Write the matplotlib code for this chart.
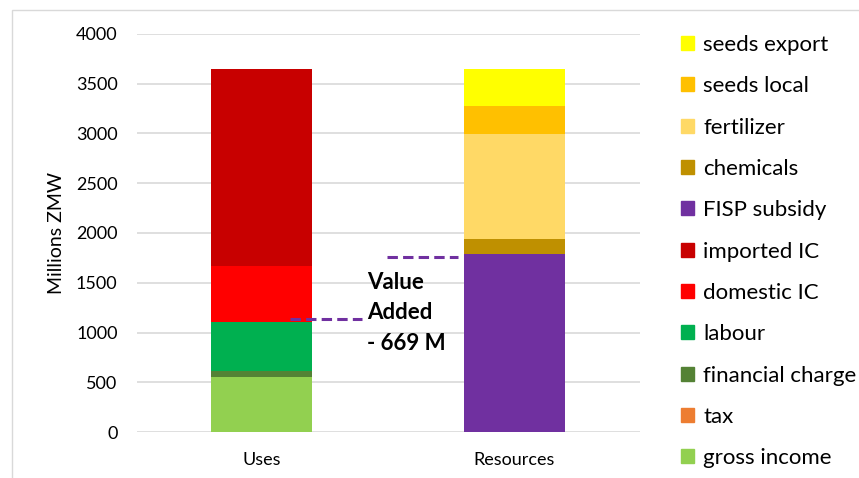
import matplotlib.pyplot as plt
from matplotlib.patches import Rectangle, Patch

plt.rcParams['font.family'] = ['Lato', 'DejaVu Sans']

categories = ['Uses', 'Resources']

series_names = ['gross income', 'tax', 'financial charge', 'labour', 'domestic IC',
                'imported IC', 'FISP subsidy', 'chemicals', 'fertilizer',
                'seeds local', 'seeds export']
uses_vals = [558, 0, 57, 495, 560, 1978, 0, 0, 0, 0, 0]
resources_vals = [0, 0, 0, 0, 0, 0, 1790, 150, 1055, 281, 372]
colors = ['#92D050', '#ED7D31', '#548235', '#00B050', '#FF0000',
          '#C80000', '#7030A0', '#BF9000', '#FFD966', '#FFC000', '#FFFF00']

va_label = 'Value\nAdded\n- 669 M'
va_uses_level = 1135
va_res_level = 1760

fig = plt.figure(figsize=(8.59, 4.78), dpi=100)
ax = fig.add_axes([137 / 859, 45.7 / 478, 503 / 859, 398.6 / 478])

# chart frame (only left and top edges visible)
fig.patches.append(Rectangle((12 / 859, -0.1), 1.2, (478 - 10) / 478 + 0.1,
                             transform=fig.transFigure, fill=False,
                             edgecolor='#D9D9D9', linewidth=1))

x = [0, 1]
bottoms = [0, 0]
for name, u, r, c in zip(series_names, uses_vals, resources_vals, colors):
    ax.bar(x, [u, r], width=0.4, bottom=bottoms, color=c, label=name, zorder=2)
    bottoms = [bottoms[0] + u, bottoms[1] + r]

# value added markers
ax.plot([0.113, 0.398], [va_uses_level, va_uses_level], color='#7030A0',
        linestyle=(0, (3.4, 1.7)), linewidth=2.2, zorder=3)
ax.plot([0.497, 0.778], [va_res_level, va_res_level], color='#7030A0',
        linestyle=(0, (3.4, 1.7)), linewidth=2.2, zorder=3)
ax.text(0.418, 1200, va_label, fontsize=16, fontweight='bold',
        ha='left', va='center', linespacing=1.55, zorder=4)

ax.set_xlim(-0.492, 1.496)
ax.set_ylim(0, 4000)
ax.set_yticks(range(0, 4001, 500))
ax.set_xticks(x)
ax.set_xticklabels(categories, fontsize=13)
ax.tick_params(axis='y', labelsize=13, length=0, pad=14)
ax.tick_params(axis='x', length=0, pad=14)
ax.grid(axis='y', color='#D9D9D9', linewidth=1.2, zorder=0)
ax.set_axisbelow(True)
for s in ax.spines.values():
    s.set_visible(False)
ax.set_ylabel('Millions ZMW', fontsize=14, labelpad=8)

handles = [Patch(color=c) for c in colors][::-1]
labels = series_names[::-1]
fig.legend(handles, labels, loc='upper left', bbox_to_anchor=(672 / 859, 1 - 26 / 478),
           frameon=False, fontsize=16, handlelength=0.6, handleheight=0.6,
           handletextpad=0.4, labelspacing=0.96, borderaxespad=0)

fig.savefig('out.png', dpi=100)
